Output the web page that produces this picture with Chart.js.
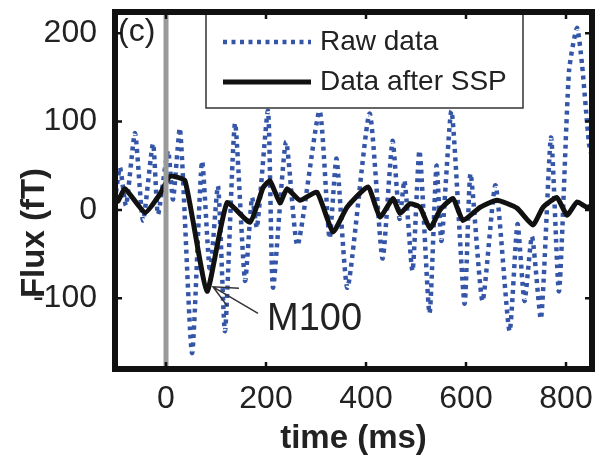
<!DOCTYPE html>
<html>
<head>
<meta charset="utf-8">
<script src="https://cdn.jsdelivr.net/npm/chart.js@4.4.0/dist/chart.umd.min.js"></script>
<style>
    body { margin: 0; background: #fff; }
    canvas { display: block; }
</style>
</head>
<body>
<canvas id="fluxChart" width="606" height="456"></canvas>
<script>
// values (time in ms, flux in fT)
const rawTime = [-100, -92, -80, -62, -46, -26, -16, 4, 14, 28, 52, 72, 88, 104, 118, 138, 158, 172, 182, 204, 214, 240, 263, 307, 327, 341, 363, 407, 433, 453, 467, 477, 493, 507, 527, 541, 551, 571, 597, 609, 633, 659, 687, 703, 717, 732, 750, 770, 786, 806, 822, 832, 846, 852];
const rawFlux = [20, 48, 5, 87, -12, 75, -5, 67, 12, 92, -162, 55, -70, 27, -137, 98, -80, 14, -20, 112, -88, 77, -40, 112, -32, 58, -88, 109, -55, 78, -10, 33, -69, 67, -117, 50, -35, 112, -106, 41, -103, 28, -137, -16, -103, -30, -123, 82, -92, 157, 206, 165, 75, 60];

const sspTime = [-100, -96, -82, -42, -12, 8, 38, 82, 122, 168, 194, 208, 228, 242, 268, 302, 334, 362, 404, 428, 454, 468, 488, 508, 528, 548, 574, 594, 628, 662, 702, 734, 754, 782, 802, 822, 842, 852];
const sspFlux = [12, 10, 24, -3, 18, 38, 33, -92, 8, -14, 25, 33, 8, 24, 11, 20, -25, 3, 26, -8, 13, -4, 7, 3, -21, 0, 13, -12, 3, 11, 2, -17, 3, 14, -6, 9, 3, 5];

const xTicks = [0, 200, 400, 600, 800];
const yTicks = [-100, 0, 100, 200];

const panelLabel = '(c)';
const yTitle = 'Flux (fT)';
const peakLabel = 'M100';
const peakTip = { x: 94, y: -87 };
const peakTail = { x: 184, y: -117 };
const peakText = { x: 202, y: -136 };

const toPoints = (xs, ys) => xs.map((x, i) => ({ x: x, y: ys[i] }));

const textColor = '#222';
const font = 'Liberation Sans, Arial, sans-serif';

const decor = {
    id: 'decor',
    afterDatasetsDraw(chart) {
        // grey onset line at t = 0, sits over the traces
        const { ctx, chartArea, scales } = chart;
        const x0 = scales.x.getPixelForValue(0);
        ctx.save();
        ctx.strokeStyle = '#9a9a9a';
        ctx.lineWidth = 5;
        ctx.beginPath();
        ctx.moveTo(x0, chartArea.top);
        ctx.lineTo(x0, chartArea.bottom);
        ctx.stroke();
        ctx.restore();
    },
    afterDraw(chart) {
        const { ctx, chartArea, scales } = chart;
        const xs = scales.x, ys = scales.y;
        ctx.save();

        // M100 arrow + label
        const tx = xs.getPixelForValue(peakTip.x), ty = ys.getPixelForValue(peakTip.y);
        const bx = xs.getPixelForValue(peakTail.x), by = ys.getPixelForValue(peakTail.y);
        const ang = Math.atan2(by - ty, bx - tx);
        ctx.strokeStyle = '#333';
        ctx.lineWidth = 1.5;
        ctx.beginPath();
        ctx.moveTo(bx, by);
        ctx.lineTo(tx, ty);
        ctx.moveTo(tx + 26 * Math.cos(ang - 0.48), ty + 26 * Math.sin(ang - 0.48));
        ctx.lineTo(tx, ty);
        ctx.lineTo(tx + 24 * Math.cos(ang + 0.4), ty + 24 * Math.sin(ang + 0.4));
        ctx.stroke();
        ctx.fillStyle = textColor;
        ctx.font = '38px ' + font;
        ctx.textAlign = 'left';
        ctx.textBaseline = 'alphabetic';
        ctx.fillText(peakLabel, xs.getPixelForValue(peakText.x), ys.getPixelForValue(peakText.y));

        // panel letter
        ctx.font = '32px ' + font;
        ctx.fillText(panelLabel, chartArea.left + 3, chartArea.top + 29);

        // legend box
        const lx = 206, ly = chartArea.top + 2, lw = 317, lh = 94;
        ctx.fillStyle = '#fff';
        ctx.fillRect(lx, ly, lw, lh);
        ctx.strokeStyle = '#333';
        ctx.lineWidth = 1.5;
        ctx.strokeRect(lx, ly, lw, lh);
        const order = [1, 0];
        order.forEach((di, row) => {
            const ds = chart.data.datasets[di];
            const yy = ly + 28 + row * 40;
            ctx.strokeStyle = ds.borderColor;
            ctx.lineWidth = ds.borderWidth;
            ctx.setLineDash(ds.borderDash || []);
            ctx.beginPath();
            ctx.moveTo(lx + 17, yy);
            ctx.lineTo(lx + 105, yy);
            ctx.stroke();
            ctx.setLineDash([]);
            ctx.fillStyle = textColor;
            ctx.font = '28px ' + font;
            ctx.textBaseline = 'middle';
            ctx.fillText(ds.label, lx + 114, yy);
        });

        // thick frame with inward ticks
        ctx.strokeStyle = '#111';
        ctx.lineWidth = 6;
        ctx.strokeRect(chartArea.left, chartArea.top, chartArea.right - chartArea.left, chartArea.bottom - chartArea.top);
        ctx.lineWidth = 2.5;
        ctx.beginPath();
        xTicks.forEach(v => {
            const px = xs.getPixelForValue(v);
            ctx.moveTo(px, chartArea.bottom); ctx.lineTo(px, chartArea.bottom - 7);
            ctx.moveTo(px, chartArea.top); ctx.lineTo(px, chartArea.top + 7);
        });
        yTicks.forEach(v => {
            const py = ys.getPixelForValue(v);
            ctx.moveTo(chartArea.left, py); ctx.lineTo(chartArea.left + 7, py);
            ctx.moveTo(chartArea.right, py); ctx.lineTo(chartArea.right - 7, py);
        });
        ctx.stroke();

        // y axis title, overlaps the tick labels like the original
        ctx.translate(35, 233);
        ctx.rotate(-Math.PI / 2);
        ctx.fillStyle = textColor;
        ctx.font = 'bold 33px ' + font;
        ctx.textAlign = 'center';
        ctx.textBaseline = 'middle';
        ctx.fillText(yTitle, 0, 0);
        ctx.restore();
    }
};

const ctx = document.getElementById('fluxChart').getContext('2d');
new Chart(ctx, {
    type: 'line',
    data: {
        datasets: [{
            label: 'Data after SSP',
            data: toPoints(sspTime, sspFlux),
            borderColor: '#111',
            borderWidth: 5,
            pointRadius: 0,
            tension: 0.15,
            order: 0
        }, {
            label: 'Raw data',
            data: toPoints(rawTime, rawFlux),
            borderColor: '#3556a8',
            borderWidth: 4.5,
            borderDash: [4, 4.5],
            pointRadius: 0,
            tension: 0.2,
            order: 1
        }]
    },
    options: {
        responsive: false,
        animation: false,
        layout: { padding: { top: 12, right: 14, left: 0, bottom: 0 } },
        plugins: {
            legend: { display: false },
            tooltip: { enabled: false }
        },
        scales: {
            x: {
                type: 'linear',
                min: -102,
                max: 852,
                afterBuildTicks: s => { s.ticks = xTicks.map(v => ({ value: v })); },
                afterFit: s => { s.height = 87; s.paddingLeft = 0; s.paddingRight = 0; },
                grid: { display: false },
                border: { display: false },
                ticks: {
                    font: { family: font, size: 32 },
                    color: textColor,
                    padding: 3,
                    maxRotation: 0
                },
                title: {
                    display: true,
                    text: 'time (ms)',
                    color: textColor,
                    font: { family: font, size: 33, weight: 'bold', lineHeight: 1.05 },
                    padding: 0
                }
            },
            y: {
                min: -180,
                max: 224,
                afterBuildTicks: s => { s.ticks = yTicks.map(v => ({ value: v })); },
                afterFit: s => { s.width = 115; s.paddingTop = 0; s.paddingBottom = 0; },
                grid: { display: false },
                border: { display: false },
                ticks: {
                    font: { family: font, size: 32 },
                    color: textColor,
                    padding: 10
                }
            }
        }
    },
    plugins: [decor]
});
</script>
</body>
</html>
